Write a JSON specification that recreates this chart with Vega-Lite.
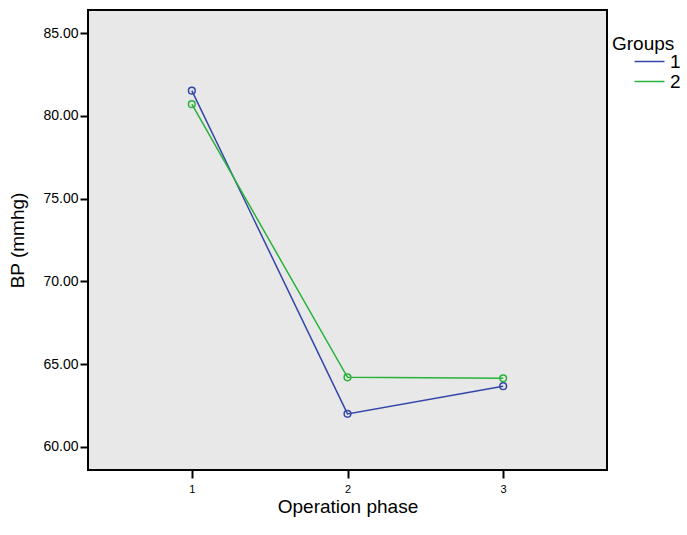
{
  "$schema": "https://vega.github.io/schema/vega-lite/v6.json",
  "width": 519,
  "height": 460,
  "autosize": {"type": "none"},
  "padding": {"left": 88, "top": 10, "right": 80, "bottom": 65},
  "background": "white",
  "config": {
    "font": "Liberation Sans",
    "view": {"fill": "#e8e8e8", "stroke": "#000000", "strokeWidth": 2},
    "axis": {"domain": false, "grid": false, "tickColor": "#000000", "tickWidth": 2, "tickSize": 8, "labelColor": "#000000", "titleColor": "#000000", "titleFontWeight": "normal"}
  },
  "data": {
    "values": [
      {"phase": 1, "group": "1", "bp": 81.52},
      {"phase": 2, "group": "1", "bp": 62.0},
      {"phase": 3, "group": "1", "bp": 63.67},
      {"phase": 1, "group": "2", "bp": 80.7},
      {"phase": 2, "group": "2", "bp": 64.21},
      {"phase": 3, "group": "2", "bp": 64.15}
    ]
  },
  "encoding": {
    "x": {"field": "phase", "type": "quantitative", "scale": {"domain": [0.333, 3.667], "nice": false, "zero": false},
      "axis": {"values": [1, 2, 3], "format": "d", "title": "Operation phase", "labelFontSize": 11, "labelPadding": 5, "titleFontSize": 19, "titlePadding": 3}},
    "y": {"field": "bp", "type": "quantitative", "scale": {"domain": [58.61, 86.39], "nice": false, "zero": false},
      "axis": {"values": [60, 65, 70, 75, 80, 85], "format": ".2f", "title": "BP (mmhg)", "labelFontSize": 14, "labelPadding": 2, "titleFontSize": 19, "titlePadding": 15}},
    "color": {"field": "group", "type": "nominal", "scale": {"domain": ["1", "2"], "range": ["#3346a8", "#27b33a"]},
      "legend": {"title": "Groups", "symbolType": "M-2.75,0H1", "symbolSize": 256, "symbolStrokeWidth": 1.5, "symbolFillColor": "transparent", "symbolOffset": 35, "titleFontSize": 19, "titleFontWeight": "normal", "titlePadding": -2, "labelFontSize": 19, "orient": "none", "legendX": 524, "legendY": 25, "rowPadding": 0, "labelOffset": 4}}
  },
  "layer": [
    {"mark": {"type": "line", "strokeWidth": 1.5}},
    {"mark": {"type": "point", "filled": false, "size": 45, "strokeWidth": 1.5, "opacity": 1}}
  ]
}
